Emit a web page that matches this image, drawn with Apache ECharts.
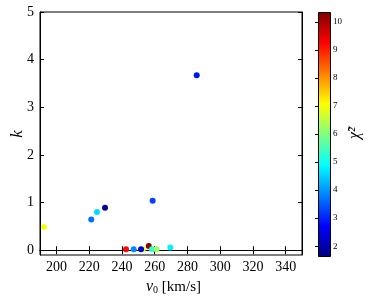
<!DOCTYPE html>
<html><head><meta charset="utf-8">
<script src="https://cdn.jsdelivr.net/npm/echarts@6/dist/echarts.min.js"></script>
<style>html,body{margin:0;padding:0;background:#fff}#c{width:379px;height:304px}</style>
</head><body><div id="c"></div>
<script>
const v0 = [192.4, 221.3, 224.8, 229.7, 258.8, 285.7, 242.5, 247.2, 252.7, 251.7, 256.4, 258.4, 261.2, 269.6];
const kVals = [0.49, 0.645, 0.80, 0.89, 1.04, 3.67, 0.02, 0.02, 0.02, 0.02, 0.09, 0.02, 0.02, 0.06];
const chi2 = [7.0, 3.7, 4.6, 1.9, 3.3, 2.9, 9.2, 3.9, 7.0, 2.4, 10.2, 5.3, 6.2, 4.8];
const xTicks = [200, 220, 240, 260, 280, 300, 320, 340];
const yTicks = [0, 1, 2, 3, 4, 5];
const cbTicks = [2, 3, 4, 5, 6, 7, 8, 9, 10];

const jet = ['#00007f','#0000ff','#007fff','#00ffff','#7fff7f','#ffff00','#ff7f00','#ff0000','#7f0000'];
const font = 'Liberation Serif';
const data = v0.map((v, i) => [v, kVals[i], chi2[i]]);

const chart = echarts.init(document.getElementById('c'));
const axLine = {show: true, lineStyle: {color: '#000', width: 1}};
const gradStops = jet.map((c, i) => ({offset: 1 - i / (jet.length - 1), color: c}));
chart.setOption({
  animation: false,
  grid: [
    {left: 40, top: 12, width: 262, height: 243, show: true, borderColor: '#000', borderWidth: 1},
    {left: 318, top: 12, width: 12, height: 244, show: false}
  ],
  xAxis: [
    {gridIndex: 0, type: 'value', min: 190, max: 350, position: 'bottom',
     axisLine: axLine, splitLine: {show: false},
     axisTick: {inside: true, length: 4, customValues: xTicks, lineStyle: {color: '#000'}},
     axisLabel: {customValues: xTicks, color: '#000', fontFamily: font, fontSize: 14, margin: 5}},
    {gridIndex: 0, type: 'value', min: 190, max: 350, position: 'top',
     axisLine: axLine, splitLine: {show: false},
     axisTick: {inside: true, length: 4, customValues: xTicks, lineStyle: {color: '#000'}},
     axisLabel: {show: false}},
    {gridIndex: 1, type: 'value', min: 0, max: 1, show: false}
  ],
  yAxis: [
    {gridIndex: 0, type: 'value', min: -0.1, max: 5, position: 'left',
     axisLine: axLine, splitLine: {show: false},
     axisTick: {inside: true, length: 4, customValues: yTicks, lineStyle: {color: '#000'}},
     axisLabel: {customValues: yTicks, color: '#000', fontFamily: font, fontSize: 14, margin: 6}},
    {gridIndex: 0, type: 'value', min: -0.1, max: 5, position: 'right',
     axisLine: axLine, splitLine: {show: false},
     axisTick: {inside: true, length: 4, customValues: yTicks, lineStyle: {color: '#000'}},
     axisLabel: {show: false}},
    {gridIndex: 1, type: 'value', min: 1.65, max: 10.35, position: 'right',
     axisLine: {show: false}, splitLine: {show: false},
     axisTick: {inside: true, length: 3, customValues: cbTicks, lineStyle: {color: '#000'}},
     axisLabel: {customValues: cbTicks, color: '#000', fontFamily: font, fontSize: 9, margin: 3}}
  ],
  visualMap: {
    type: 'continuous', show: false, min: 1.65, max: 10.35, dimension: 2, seriesIndex: 0,
    inRange: {color: jet}
  },
  series: [{
    type: 'scatter', xAxisIndex: 0, yAxisIndex: 0, data: data,
    symbolSize: 6, itemStyle: {opacity: 1}
  }],
  graphic: [
    {type: 'rect', left: 318, top: 12, shape: {width: 12, height: 244}, z: 0,
     style: {fill: new echarts.graphic.LinearGradient(0, 0, 0, 1, gradStops), stroke: '#000', lineWidth: 1}},
    {type: 'text', left: 146, top: 279, z: 100,
     style: {text: '{i|v}{s|0} [km/s]', font: '15px ' + font, fill: '#000',
       rich: {i: {fontStyle: 'italic', fontFamily: font, fontSize: 16},
              s: {fontFamily: font, fontSize: 10, verticalAlign: 'bottom', padding: [6, 0, 0, 0]}}}},
    {type: 'text', x: 18, y: 134, rotation: Math.PI / 2, z: 100,
     style: {text: 'k', font: 'italic 17px ' + font, fill: '#000', align: 'center', verticalAlign: 'middle'}},
    {type: 'text', x: 355, y: 133, rotation: Math.PI / 2, z: 100,
     style: {text: 'χ̃²', font: 'italic 16px ' + font, fill: '#000', align: 'center', verticalAlign: 'middle'}}
  ]
});
</script></body></html>
